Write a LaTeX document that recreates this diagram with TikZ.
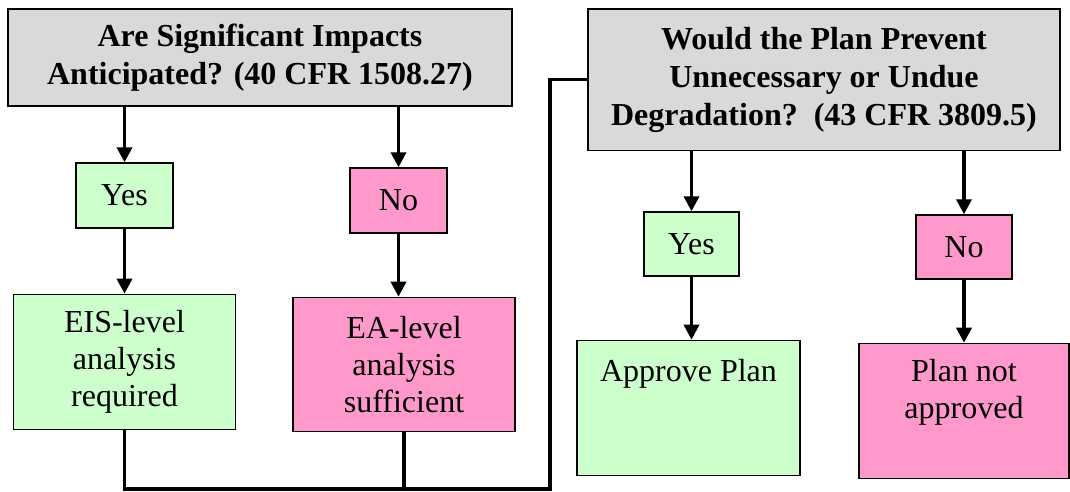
\documentclass[tikz,border=0pt]{standalone}
\usepackage{fontspec}
\setmainfont{Liberation Serif}
\usetikzlibrary{positioning}
\usetikzlibrary{arrows.meta}

\definecolor{qgray}{HTML}{D9D9D9}
\definecolor{yesgreen}{HTML}{CCFFCC}
\definecolor{nopink}{HTML}{FF99CC}

\tikzset{
  box/.style={draw, line width=1.4pt, align=center, inner sep=0pt,
    font=\fontsize{32}{37}\selectfont},
  qbox/.style={box, fill=qgray, font=\fontsize{32}{38}\selectfont\bfseries},
  yesbox/.style={box, fill=yesgreen},
  nobox/.style={box, fill=nopink},
  arr/.style={line width=3.5pt, -{Triangle[width=15pt,length=15pt]}},
  link/.style={line width=3.5pt}
}

\begin{document}
\begin{tikzpicture}[x=1pt, y=-1pt]
    \useasboundingbox (0,0) rectangle (1070,492);

    \node[qbox, minimum width=504pt, minimum height=97pt] (q1) at (260,57.5) {Are Significant Impacts\\Anticipated? (40 CFR 1508.27)};
    \node[yesbox, minimum width=97pt, minimum height=65pt] (y1) at (124.5,195.5) {Yes};
    \node[nobox, minimum width=97pt, minimum height=65pt] (n1) at (398.5,200.5) {No};
    \node[yesbox, below=65pt of y1, minimum width=222pt, minimum height=135pt] (ry1) {EIS-level\\analysis\\required};
    \node[nobox, below=63pt of n1, xshift=5.5pt, minimum width=222pt, minimum height=134pt] (rn1) {EA-level\\analysis\\sufficient};

    \node[qbox, minimum width=472pt, minimum height=141pt] (q2) at (824,79.7) {Would the Plan Prevent\\Unnecessary or Undue\\Degradation?~~(43 CFR 3809.5)};
    \node[yesbox, minimum width=95pt, minimum height=64pt] (y2) at (691.5,244) {Yes};
    \node[nobox, minimum width=96pt, minimum height=64pt] (n2) at (964,247) {No};
    \node[yesbox, below=63pt of y2, xshift=-3pt, minimum width=223pt, text height=41pt, text depth=94pt] (ry2) {Approve Plan};
    \node[nobox, below=63pt of n2, minimum width=210pt, text height=75pt, text depth=60pt] (rn2) {Plan not\\approved};

    % Edges
    \draw[arr] (q1.south -| y1) -- (y1.north);
    \draw[arr] (q1.south -| n1) -- (n1.north);
    \draw[arr] (y1.south) -- (y1.south |- ry1.north);
    \draw[arr] (n1.south) -- (n1.south |- rn1.north);

    \draw[arr] (q2.south -| y2) -- (y2.north);
    \draw[arr] (q2.south -| n2) -- (n2.north);
    \draw[arr] (y2.south) -- (y2.south |- ry2.north);
    \draw[arr] (n2.south) -- (n2.south |- rn2.north);

    % Connector
    \coordinate (j1) at (550,489);
    \draw[link] (ry1.south) |- (j1) |- (q2.west);
    \draw[link] (rn1.south) -- (rn1.south |- j1);
\end{tikzpicture}
\end{document}
